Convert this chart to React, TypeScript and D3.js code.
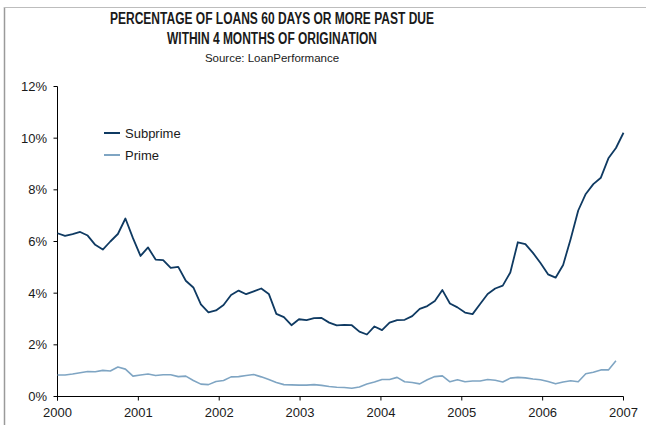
import React from "react";
import * as d3 from "d3";

const years = [2000, 2001, 2002, 2003, 2004, 2005, 2006, 2007];
const yTicks = [0, 2, 4, 6, 8, 10, 12];
const yTickLabels = ["0%", "2%", "4%", "6%", "8%", "10%", "12%"];

const subprime = [
  6.32, 6.22, 6.29, 6.37, 6.23, 5.87, 5.69, 6.0, 6.29, 6.89,
  6.13, 5.44, 5.77, 5.3, 5.28, 4.98, 5.02, 4.48, 4.22, 3.57,
  3.26, 3.33, 3.54, 3.93, 4.1, 3.96, 4.07, 4.18, 3.97, 3.2,
  3.07, 2.76, 2.99, 2.96, 3.03, 3.04, 2.86, 2.75, 2.77, 2.76,
  2.51, 2.4, 2.71, 2.57, 2.86, 2.96, 2.97, 3.11, 3.39, 3.5,
  3.7, 4.12, 3.6, 3.45, 3.25, 3.19, 3.58, 3.97, 4.18, 4.29,
  4.8, 5.97, 5.9, 5.56, 5.17, 4.73, 4.6, 5.09, 6.1, 7.2,
  7.84, 8.22, 8.47, 9.22, 9.62, 10.21,
];

const prime = [
  0.83, 0.83, 0.87, 0.92, 0.97, 0.96, 1.01, 0.99, 1.14, 1.06,
  0.79, 0.83, 0.87, 0.81, 0.84, 0.84, 0.77, 0.79, 0.62, 0.48,
  0.46, 0.58, 0.62, 0.76, 0.77, 0.81, 0.85, 0.76, 0.66, 0.54,
  0.46, 0.45, 0.44, 0.44, 0.46, 0.43, 0.39, 0.36, 0.35, 0.32,
  0.37, 0.48, 0.56, 0.66, 0.66, 0.74, 0.57, 0.54, 0.49, 0.65,
  0.77, 0.8, 0.57, 0.65, 0.57, 0.6, 0.6, 0.66, 0.63, 0.56,
  0.71, 0.74, 0.72, 0.68, 0.65, 0.58, 0.49, 0.56, 0.61, 0.57,
  0.88, 0.94, 1.03, 1.03, 1.38,
];

const seriesNames = ["Subprime", "Prime"];
const seriesColors = ["#0f3a62", "#7fa5c3"];

const FONT = "'Liberation Sans', Arial, sans-serif";

export default function App() {
  const W = 646;
  const H = 425;
  const left = 57.5;
  const right = 623.5;
  const top = 86.5;
  const bottom = 396.5;

  const xYear = d3.scaleLinear().domain([2000, 2007]).range([left, right]);
  const xIdx = d3.scaleLinear().domain([0, subprime.length - 1]).range([left, right]);
  const y = d3.scaleLinear().domain([0, 12]).range([bottom, top]);

  const line = d3
    .line<number>()
    .x((_, i) => xIdx(i))
    .y((d) => y(d));

  const cx = 272;

  return (
    <svg
      width={W}
      height={H}
      style={{ position: "absolute", left: 0, top: 0, background: "#fff" }}
      fontFamily={FONT}
    >
      <rect x={0} y={0} width={W} height={H} fill="#fff" />
      {/* frame */}
      <line x1={4.5} y1={7} x2={4.5} y2={H} stroke="#9a9a9a" strokeWidth={1.5} />
      <line x1={4} y1={7.5} x2={W} y2={7.5} stroke="#bdbdbd" strokeWidth={1} />

      {/* titles */}
      <text
        x={cx}
        y={24}
        textAnchor="middle"
        fontSize={16}
        fontWeight="bold"
        fill="#1a1a1a"
        textLength={324}
        lengthAdjust="spacingAndGlyphs"
        fontFamily="'Liberation Sans Narrow', 'Liberation Sans', Arial, sans-serif"
      >
        PERCENTAGE OF LOANS 60 DAYS OR MORE PAST DUE
      </text>
      <text
        x={cx}
        y={44}
        textAnchor="middle"
        fontSize={16}
        fontWeight="bold"
        fill="#1a1a1a"
        textLength={210}
        lengthAdjust="spacingAndGlyphs"
        fontFamily="'Liberation Sans Narrow', 'Liberation Sans', Arial, sans-serif"
      >
        WITHIN 4 MONTHS OF ORIGINATION
      </text>
      <text x={cx} y={62} textAnchor="middle" fontSize={11.5} fill="#1a1a1a">
        Source: LoanPerformance
      </text>

      {/* y axis */}
      <line x1={left} y1={top} x2={left} y2={bottom + 4} stroke="#000" strokeWidth={1} />
      {yTicks.map((t, i) => (
        <g key={t}>
          <line x1={left - 4} x2={left} y1={y(t)} y2={y(t)} stroke="#000" strokeWidth={1} />
          <text
            x={47}
            y={y(t)}
            dy="0.35em"
            textAnchor="end"
            fontSize={13}
            fill="#1a1a1a"
          >
            {yTickLabels[i]}
          </text>
        </g>
      ))}

      {/* x axis */}
      <line x1={left} y1={bottom} x2={right} y2={bottom} stroke="#000" strokeWidth={1} />
      {years.map((yr) => (
        <g key={yr}>
          <line x1={xYear(yr)} x2={xYear(yr)} y1={bottom} y2={bottom + 4} stroke="#000" strokeWidth={1} />
          <text x={xYear(yr)} y={416.5} textAnchor="middle" fontSize={13} fill="#1a1a1a">
            {yr}
          </text>
        </g>
      ))}

      {/* series */}
      <path d={line(prime) || ""} fill="none" stroke={seriesColors[1]} strokeWidth={1.6} strokeLinejoin="round" />
      <path d={line(subprime) || ""} fill="none" stroke={seriesColors[0]} strokeWidth={1.8} strokeLinejoin="round" />

      {/* legend */}
      {seriesNames.map((name, i) => (
        <g key={name}>
          <line
            x1={104}
            x2={120}
            y1={133 + i * 22}
            y2={133 + i * 22}
            stroke={seriesColors[i]}
            strokeWidth={2}
          />
          <text x={125} y={133 + i * 22} dy="0.35em" fontSize={13} fill="#1a1a1a">
            {name}
          </text>
        </g>
      ))}
    </svg>
  );
}
